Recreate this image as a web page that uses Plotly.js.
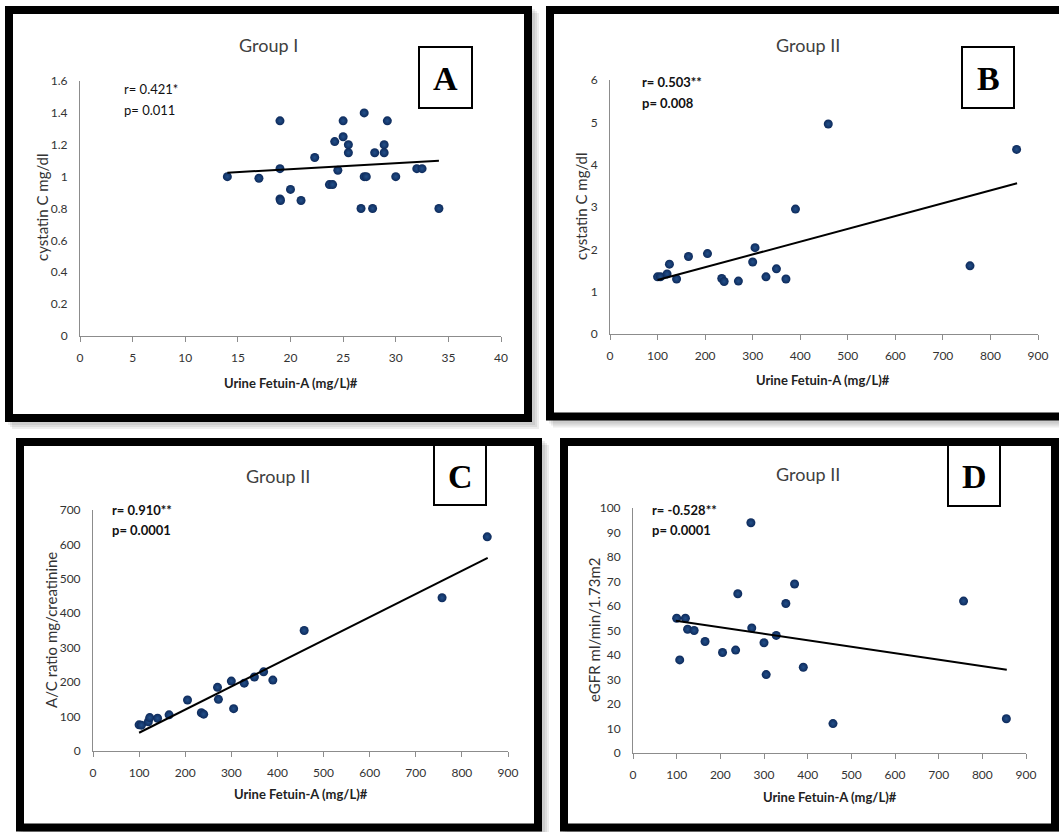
<!DOCTYPE html>
<html><head><meta charset="utf-8">
<script src="https://cdn.plot.ly/plotly-3.0.1.min.js"></script>
<style>html,body{margin:0;padding:0;background:#fff;}#chart{width:1059px;height:832px;}</style>
</head><body><div id="chart"></div>
<script>
// ---------- DATA ----------
const panelLetters = ["A", "B", "C", "D"];
const panelTitles = ["Group I", "Group II", "Group II", "Group II"];
const xAxisTitle = "Urine Fetuin-A (mg/L)#";
const yTitles = ["cystatin C mg/dl", "cystatin C mg/dl", "A/C ratio mg/creatinine", "eGFR ml/min/1.73m2"];
const rTexts = ["r= 0.421*", "r= 0.503**", "r= 0.910**", "r= -0.528**"];
const pTexts = ["p= 0.011", "p= 0.008", "p= 0.0001", "p= 0.0001"];

const A_x = [14, 17, 19, 19, 19, 19.05, 20, 21, 22.3, 23.7, 24, 24.2, 24.5, 25, 25, 25.5, 25.5, 26.7, 27, 27, 27.2, 27.8, 28, 28.9, 28.9, 29.2, 30, 32, 32.5, 34.1];
const A_y = [1.0, 0.99, 1.35, 1.05, 0.86, 0.85, 0.92, 0.85, 1.12, 0.95, 0.95, 1.22, 1.04, 1.35, 1.25, 1.2, 1.15, 0.8, 1.4, 1.0, 1.0, 0.8, 1.15, 1.2, 1.15, 1.35, 1.0, 1.05, 1.05, 0.8];
const A_trend_x = [14, 34.1];
const A_trend_y = [1.025, 1.10];

const B_x = [100, 106, 120, 125, 140, 165, 205, 235, 240, 270, 300, 305, 328, 350, 370, 390, 459, 757, 855];
const B_y = [1.35, 1.35, 1.42, 1.65, 1.3, 1.83, 1.9, 1.31, 1.24, 1.25, 1.7, 2.04, 1.35, 1.54, 1.3, 2.95, 4.96, 1.61, 4.36];
const B_trend_x = [100, 856];
const B_trend_y = [1.275, 3.56];

const C_x = [100, 105, 120, 123, 140, 165, 205, 235, 240, 270, 272, 300, 305, 328, 350, 370, 390, 458, 757, 855];
const C_y = [76, 75, 85, 97, 95, 105, 148, 111, 107, 185, 150, 203, 123, 197, 215, 230, 206, 350, 445, 622];
const C_trend_x = [100, 856];
const C_trend_y = [53, 561];

const D_x = [100, 107, 120, 125, 140, 165, 205, 235, 240, 270, 272, 300, 305, 328, 350, 370, 390, 458, 757, 855];
const D_y = [55, 38, 55, 50.5, 50, 45.5, 41, 42, 65, 94, 51, 45, 32, 48, 61, 69, 35, 12, 62, 14];
const D_trend_x = [98, 856];
const D_trend_y = [54, 34];

const A_xticks = [0, 5, 10, 15, 20, 25, 30, 35, 40];
const A_xticklabels = ["0", "5", "10", "15", "20", "25", "30", "35", "40"];
const A_yticks = [0, 0.2, 0.4, 0.6, 0.8, 1, 1.2, 1.4, 1.6];
const A_yticklabels = ["0", "0.2", "0.4", "0.6", "0.8", "1", "1.2", "1.4", "1.6"];
const G2_xticks = [0, 100, 200, 300, 400, 500, 600, 700, 800, 900];
const G2_xticklabels = ["0", "100", "200", "300", "400", "500", "600", "700", "800", "900"];
const B_yticks = [0, 1, 2, 3, 4, 5, 6];
const B_yticklabels = ["0", "1", "2", "3", "4", "5", "6"];
const C_yticks = [0, 100, 200, 300, 400, 500, 600, 700];
const C_yticklabels = ["0", "100", "200", "300", "400", "500", "600", "700"];
const D_yticks = [0, 10, 20, 30, 40, 50, 60, 70, 80, 90, 100];
const D_yticklabels = ["0", "10", "20", "30", "40", "50", "60", "70", "80", "90", "100"];

// ---------- LAYOUT HELPERS ----------
const W = 1059, H = 832;
const X = p => p / W;
const Y = p => 1 - p / H;

const FONT = "Lato, 'Open Sans', sans-serif";
const series = [
  {x: A_x, y: A_y, tx: A_trend_x, ty: A_trend_y},
  {x: B_x, y: B_y, tx: B_trend_x, ty: B_trend_y},
  {x: C_x, y: C_y, tx: C_trend_x, ty: C_trend_y},
  {x: D_x, y: D_y, tx: D_trend_x, ty: D_trend_y}
];
const ticks = [
  {xv: A_xticks, xt: A_xticklabels, yv: A_yticks, yt: A_yticklabels, xr: [0, 40], yr: [0, 1.6]},
  {xv: G2_xticks, xt: G2_xticklabels, yv: B_yticks, yt: B_yticklabels, xr: [0, 900], yr: [0, 6]},
  {xv: G2_xticks, xt: G2_xticklabels, yv: C_yticks, yt: C_yticklabels, xr: [0, 900], yr: [0, 700]},
  {xv: G2_xticks, xt: G2_xticklabels, yv: D_yticks, yt: D_yticklabels, xr: [0, 900], yr: [0, 100]}
];
// pixel geometry of each panel
const geo = [
  {ax0: 80, ax1: 501, ay0: 336, ay1: 81, frame: [9, 10, 528, 418], title: [268, 45], rp: [122, 89, 110], yt: [42, 208], xt: [291, 383], box: [419, 47, 472, 108]},
  {ax0: 610, ax1: 1038, ay0: 334, ay1: 80, frame: [550, 10, 1070, 416.5], title: [808, 45], rp: [640, 82, 103], yt: [581, 207], xt: [823, 380], box: [962, 47, 1014, 108]},
  {ax0: 93, ax1: 508, ay0: 751, ay1: 510, frame: [20, 442, 538, 827.5], title: [278, 476], rp: [110, 510, 530], yt: [51, 630], xt: [301, 794], box: [434, 445, 486, 505]},
  {ax0: 633, ax1: 1026, ay0: 753, ay1: 508, frame: [564, 442, 1055, 827.5], title: [808, 474], rp: [650, 510, 530], yt: [594, 630], xt: [830, 797], box: [948, 445, 1000, 506]}
];

const data = [];
const layout = {
  width: W, height: H, margin: {l: 0, r: 0, t: 0, b: 0},
  paper_bgcolor: "#ffffff", plot_bgcolor: "rgba(0,0,0,0)",
  showlegend: false, shapes: [], annotations: [],
  font: {family: FONT, color: "#404040"}
};

// shadows and white panels
geo.forEach(g => {
  const [x0, y0, x1, y1] = g.frame;
  [7, 5, 3].forEach((o, k) => {
    layout.shapes.push({type: "rect", xref: "paper", yref: "paper", layer: "below",
      x0: X(x0 - 4 + o), x1: X(x1 + 4 + o), y0: Y(y0 - 4 + o), y1: Y(y1 + 4 + o),
      line: {width: 0}, fillcolor: "rgba(0,0,0,0.07)"});
  });
});
geo.forEach(g => {
  const [x0, y0, x1, y1] = g.frame;
  layout.shapes.push({type: "rect", xref: "paper", yref: "paper", layer: "below",
    x0: X(x0), x1: X(x1), y0: Y(y0), y1: Y(y1), line: {width: 0}, fillcolor: "#ffffff"});
  layout.shapes.push({type: "rect", xref: "paper", yref: "paper", layer: "above",
    x0: X(x0), x1: X(x1), y0: Y(y0), y1: Y(y1), line: {width: 8, color: "#000"}, fillcolor: "rgba(0,0,0,0)"});
});

geo.forEach((g, i) => {
  const n = i + 1;
  const xa = "x" + (n === 1 ? "" : n), ya = "y" + (n === 1 ? "" : n);
  const s = series[i], t = ticks[i];
  data.push({type: "scatter", mode: "markers", x: s.x, y: s.y, xaxis: xa, yaxis: ya,
    marker: {size: 9, color: "#0d2a5b", line: {width: 0},
      gradient: {type: "radial", color: "#23508a"}}, hoverinfo: "x+y"});
  data.push({type: "scatter", mode: "lines", x: s.tx, y: s.ty, xaxis: xa, yaxis: ya,
    line: {color: "#000", width: 2}, hoverinfo: "skip"});

  const axBase = {showline: true, linecolor: "#8c8c8c", linewidth: 1, showgrid: false,
    zeroline: false, tickfont: {family: FONT, size: 12, color: "#333"}, fixedrange: true,
    tickmode: "array"};
  layout["xaxis" + (n === 1 ? "" : n)] = Object.assign({}, axBase, {
    domain: [X(g.ax0), X(g.ax1)], anchor: ya, range: t.xr,
    tickvals: t.xv, ticktext: t.xt, ticks: "outside", ticklen: 5, tickcolor: "#8c8c8c",
    ticklabelstandoff: 6});
  layout["yaxis" + (n === 1 ? "" : n)] = Object.assign({}, axBase, {
    domain: [Y(g.ay0), Y(g.ay1)], anchor: xa, range: t.yr,
    tickvals: t.yv, ticktext: t.yt, ticks: "", ticklabelstandoff: 9});

  const ann = layout.annotations;
  ann.push({xref: "paper", yref: "paper", x: X(g.title[0]), y: Y(g.title[1]), xanchor: "center", yanchor: "middle",
    text: panelTitles[i], showarrow: false, font: {family: FONT, size: 18, color: "#404040"}});
  const bold = i > 0;
  ann.push({xref: "paper", yref: "paper", x: X(g.rp[0]), y: Y(g.rp[1]), xanchor: "left", yanchor: "middle",
    text: bold ? "<b>" + rTexts[i] + "</b>" : rTexts[i], showarrow: false, font: {family: FONT, size: 13, color: "#111"}});
  ann.push({xref: "paper", yref: "paper", x: X(g.rp[0]), y: Y(g.rp[2]), xanchor: "left", yanchor: "middle",
    text: bold ? "<b>" + pTexts[i] + "</b>" : pTexts[i], showarrow: false, font: {family: FONT, size: 13, color: "#111"}});
  ann.push({xref: "paper", yref: "paper", x: X(g.yt[0]), y: Y(g.yt[1]), xanchor: "center", yanchor: "middle",
    text: yTitles[i], textangle: -90, showarrow: false, font: {family: FONT, size: 15, color: "#333"}});
  ann.push({xref: "paper", yref: "paper", x: X(g.xt[0]), y: Y(g.xt[1]), xanchor: "center", yanchor: "middle",
    text: "<b>" + xAxisTitle + "</b>", showarrow: false, font: {family: FONT, size: 13, color: "#222"}});
  const [bx0, by0, bx1, by1] = g.box;
  layout.shapes.push({type: "rect", xref: "paper", yref: "paper", layer: "above",
    x0: X(bx0), x1: X(bx1), y0: Y(by0), y1: Y(by1), line: {width: 2, color: "#000"}, fillcolor: "#fff"});
  ann.push({xref: "paper", yref: "paper", x: X((bx0 + bx1) / 2), y: Y((by0 + by1) / 2 + 1), xanchor: "center", yanchor: "middle",
    text: "<b>" + panelLetters[i] + "</b>", showarrow: false,
    font: {family: "'Liberation Serif', 'Times New Roman', serif", size: 34, color: "#000"}});
});

Plotly.newPlot("chart", data, layout, {displayModeBar: false, staticPlot: true});
</script></body></html>
